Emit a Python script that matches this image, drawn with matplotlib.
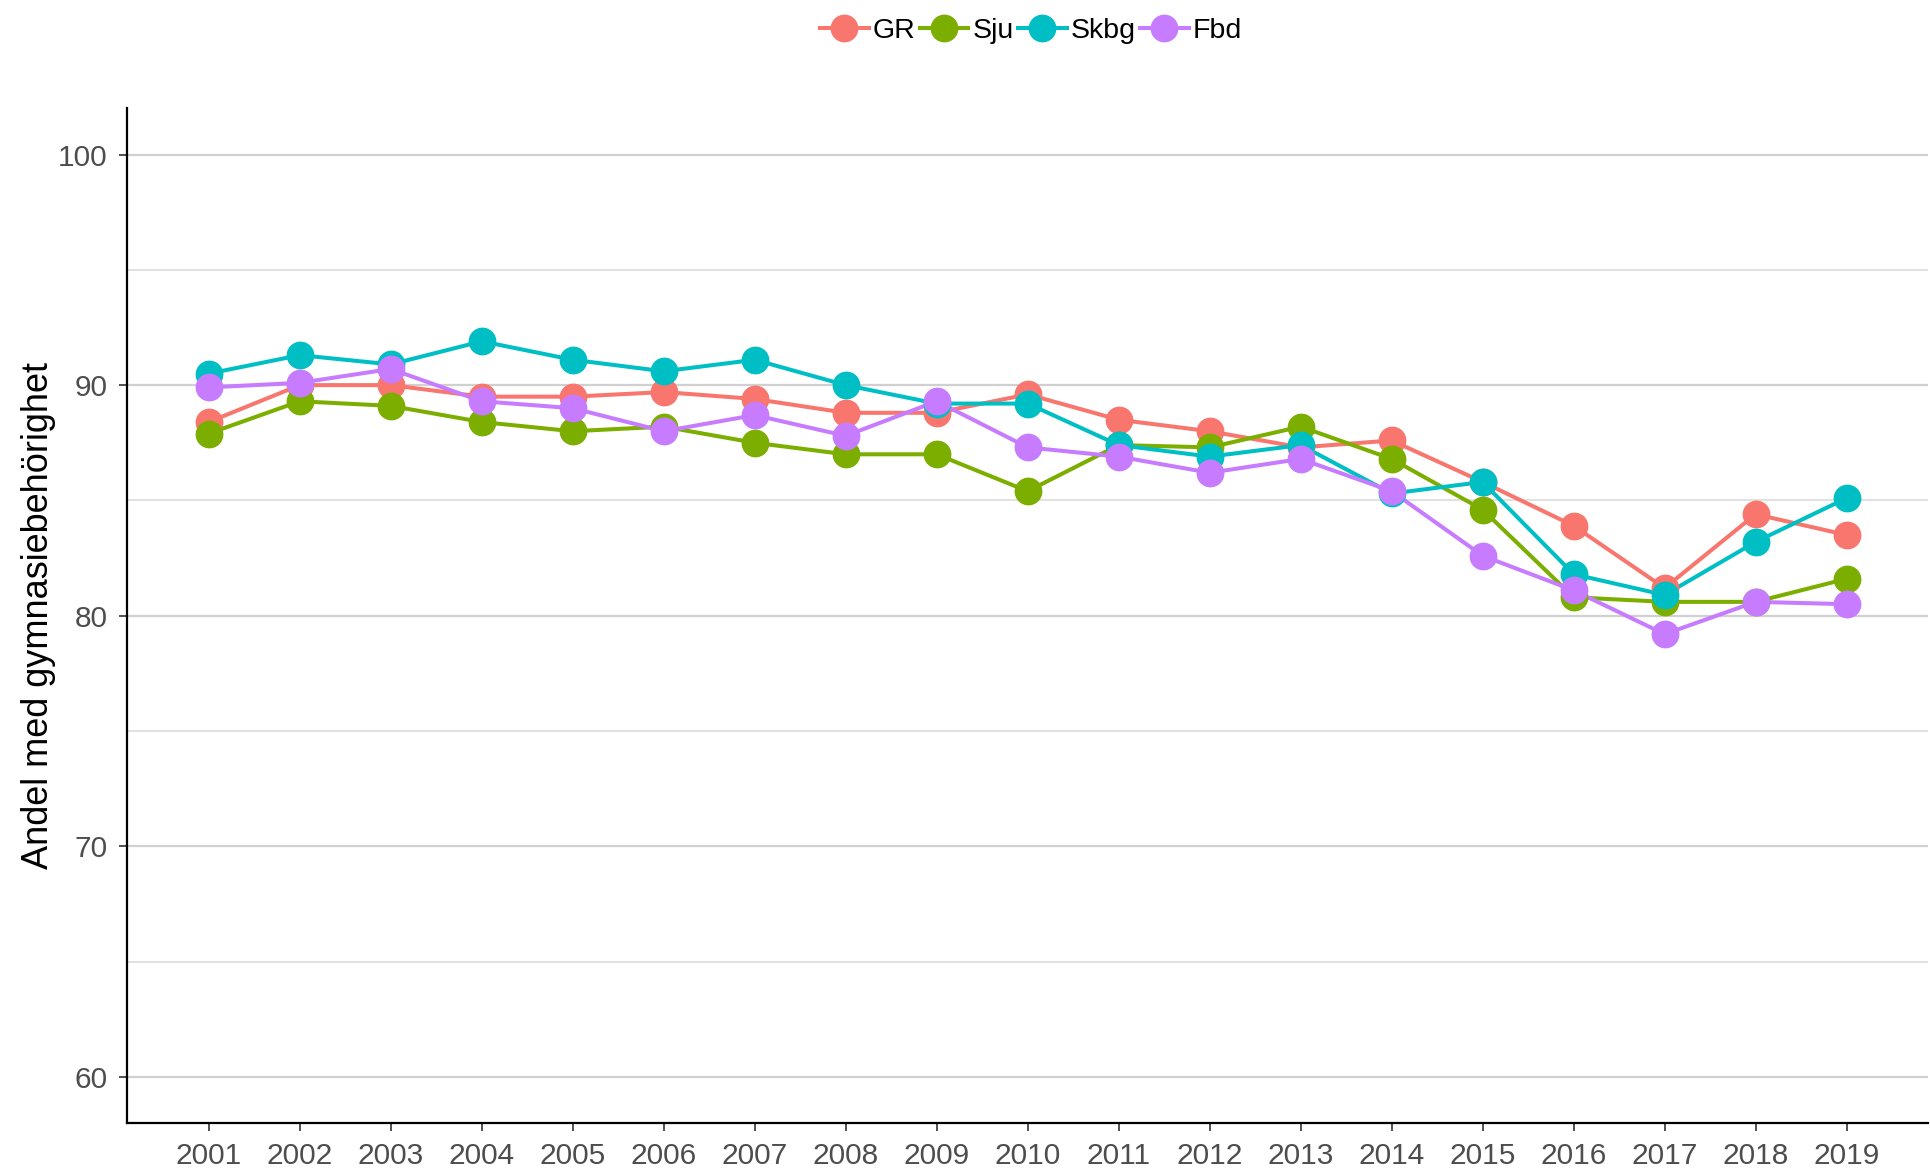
import numpy as np
import matplotlib
matplotlib.use("Agg")
import matplotlib.pyplot as plt

plt.rcParams['font.family'] = ['Liberation Sans', 'DejaVu Sans']

years = list(range(2001, 2020))
gr = [88.4, 90.0, 90.0, 89.5, 89.5, 89.7, 89.4, 88.8, 88.8, 89.6, 88.5, 88.0, 87.3, 87.6, 85.8, 83.9, 81.2, 84.4, 83.5]
sju = [87.9, 89.3, 89.1, 88.4, 88.0, 88.2, 87.5, 87.0, 87.0, 85.4, 87.4, 87.3, 88.2, 86.8, 84.6, 80.8, 80.6, 80.6, 81.6]
skbg = [90.5, 91.3, 90.9, 91.9, 91.1, 90.6, 91.1, 90.0, 89.2, 89.2, 87.4, 86.9, 87.4, 85.3, 85.8, 81.8, 80.9, 83.2, 85.1]
fbd = [89.9, 90.1, 90.7, 89.3, 89.0, 88.0, 88.7, 87.8, 89.3, 87.3, 86.9, 86.2, 86.8, 85.4, 82.6, 81.1, 79.2, 80.6, 80.5]

series = ['GR', 'Sju', 'Skbg', 'Fbd']
values = [gr, sju, skbg, fbd]
colors = ['#F8766D', '#7CAE00', '#00BFC4', '#C77CFF']

fig = plt.figure(figsize=(19.31, 11.75), dpi=100)
ax = fig.add_axes([0.0657, 0.0443, 0.933, 0.8634])

handles = []
for name, vals, col in zip(series, values, colors):
    ax.plot(years, vals, color=col, lw=2.9, zorder=2)
for name, vals, col in zip(series, values, colors):
    ax.plot(years, vals, 'o', color=col, ms=19, zorder=3)
    h, = ax.plot([], [], '-o', color=col, lw=2.9, ms=19, label=name)
    handles.append(h)

ax.set_ylim(58, 102)
ax.set_xlim(2000.1, 2019.9)
ax.set_xticks(years)
ax.set_yticks([60, 70, 80, 90, 100])
ax.set_yticks([65, 75, 85, 95], minor=True)
ax.grid(axis='y', which='major', color='#D0D0D0', lw=1.6, zorder=0)
ax.grid(axis='y', which='minor', color='#DCDCDC', lw=1.2, zorder=0)
ax.tick_params(axis='both', which='major', labelsize=21.5, labelcolor='#4D4D4D',
               length=6, width=1.2, color='#333333')
ax.tick_params(axis='x', which='major', pad=8)
ax.tick_params(axis='y', which='major', pad=8)
ax.tick_params(axis='y', which='minor', length=0)
for s in ['top', 'right']:
    ax.spines[s].set_visible(False)
for s in ['left', 'bottom']:
    ax.spines[s].set_linewidth(1.6)
    ax.spines[s].set_color('black')

ax.set_ylabel('Andel med gymnasiebehörighet', fontsize=26, labelpad=1)

fig.legend(handles=handles, loc='center', bbox_to_anchor=(0.534, 0.974), ncol=4,
           frameon=False, fontsize=20.5, handlelength=1.7, handletextpad=0.15,
           columnspacing=0.15)

fig.savefig('out.png', dpi=100)
